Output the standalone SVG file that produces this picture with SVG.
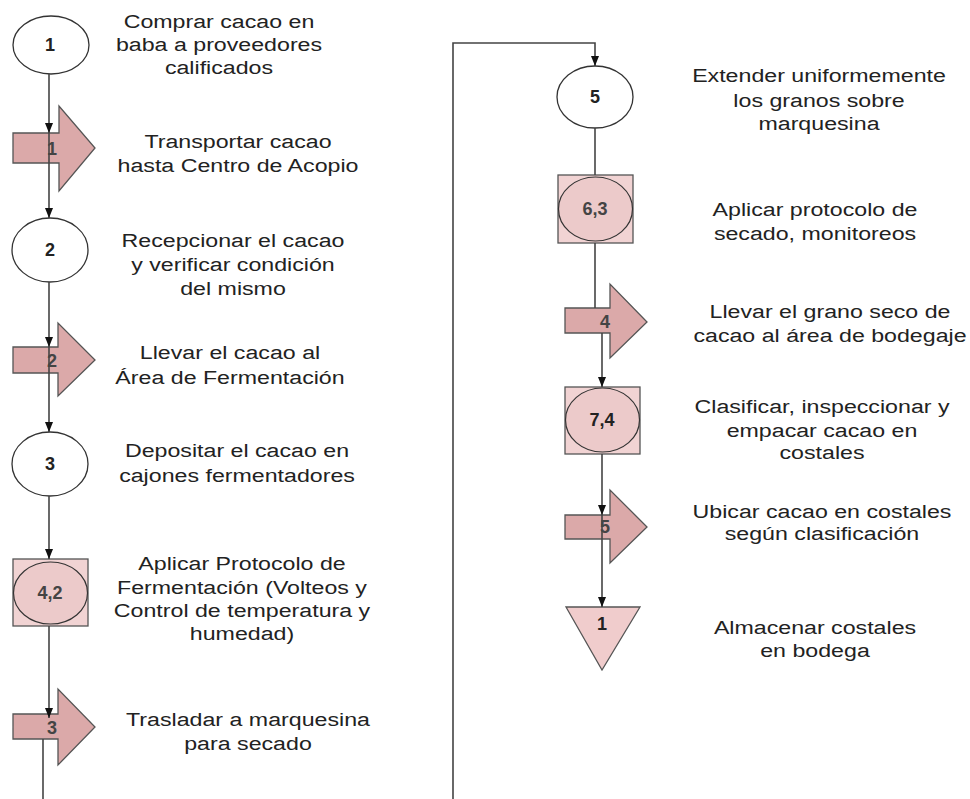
<svg xmlns="http://www.w3.org/2000/svg" width="970" height="799" viewBox="0 0 970 799">
<style>
.t{font-family:"Liberation Sans",Arial,sans-serif;font-size:19px;fill:#222;text-anchor:middle}
.n{font-family:"Liberation Sans",Arial,sans-serif;font-size:18px;font-weight:bold;fill:#222;text-anchor:middle}
.nl{font-family:"Liberation Sans",Arial,sans-serif;font-size:18px;font-weight:bold;fill:#444;text-anchor:middle}
.op{fill:#fff;stroke:#333;stroke-width:1.3}
.tr{fill:#dba9a9;stroke:#555;stroke-width:1.3}
.bx{fill:#f1d3d3;stroke:#555;stroke-width:1.3}
.be{fill:#eccaca;stroke:#333;stroke-width:1.2}
.st{fill:#f0cccc;stroke:#555;stroke-width:1.3}
.c{fill:none;stroke:#444;stroke-width:1.6}
</style>
<defs>
<marker id="ah" viewBox="0 0 10 8" refX="10" refY="4" markerWidth="10" markerHeight="8" markerUnits="userSpaceOnUse" orient="auto">
<path d="M0,0 L10,4 L0,8 Z" fill="#111"/>
</marker>
</defs>

<g id="n1"><ellipse class="op" cx="51" cy="45" rx="38" ry="29"/><text class="n" x="50" y="51">1</text>
<text class="t" transform="translate(219,0) scale(1.22,1)"><tspan x="0" y="28">Comprar cacao en</tspan><tspan x="0" y="51">baba a proveedores</tspan><tspan x="0" y="74">calificados</tspan></text></g>

<g id="t1"><path class="tr" d="M13,133 H59 V106 L95,148 L59,191 V163 H13 Z"/><line class="c" x1="49" y1="133" x2="49" y2="163"/><text class="nl" x="52" y="155">1</text>
<text class="t" transform="translate(238,0) scale(1.22,1)"><tspan x="0" y="148">Transportar cacao</tspan><tspan x="0" y="172">hasta Centro de Acopio</tspan></text></g>

<g id="n2"><ellipse class="op" cx="50" cy="250" rx="38" ry="32"/><text class="n" x="50" y="256">2</text>
<text class="t" transform="translate(233,0) scale(1.22,1)"><tspan x="0" y="247">Recepcionar el cacao</tspan><tspan x="0" y="271">y verificar condición</tspan><tspan x="0" y="295">del mismo</tspan></text></g>

<g id="t2"><path class="tr" d="M13,347 H58 V323 L95,360 L58,396 V373 H13 Z"/><line class="c" x1="49" y1="347" x2="49" y2="373"/><text class="nl" x="52" y="367">2</text>
<text class="t" transform="translate(230,0) scale(1.22,1)"><tspan x="0" y="359">Llevar el cacao  al</tspan><tspan x="0" y="384">Área de Fermentación</tspan></text></g>

<g id="n3"><ellipse class="op" cx="50" cy="464" rx="38" ry="32"/><text class="n" x="50" y="470">3</text>
<text class="t" transform="translate(237,0) scale(1.22,1)"><tspan x="0" y="457">Depositar el cacao en</tspan><tspan x="0" y="482">cajones fermentadores</tspan></text></g>

<g id="n42"><rect class="bx" x="13" y="559" width="75" height="67"/><ellipse class="be" cx="50.5" cy="593" rx="37" ry="31"/><text class="nl" x="50" y="599">4,2</text>
<text class="t" transform="translate(242,0) scale(1.22,1)"><tspan x="0" y="570">Aplicar Protocolo de</tspan><tspan x="0" y="594">Fermentación (Volteos y</tspan><tspan x="0" y="617">Control de temperatura y</tspan><tspan x="0" y="640">humedad)</tspan></text></g>

<g id="t3"><path class="tr" d="M13,714 H58 V689 L95,727 L58,765 V739 H13 Z"/><text class="nl" x="52" y="734">3</text>
<text class="t" transform="translate(248,0) scale(1.22,1)"><tspan x="0" y="726">Trasladar a marquesina</tspan><tspan x="0" y="750">para secado</tspan></text></g>

<g id="n5"><ellipse class="op" cx="595" cy="97" rx="38" ry="31"/><text class="n" x="595" y="103">5</text>
<text class="t" transform="translate(819,0) scale(1.22,1)"><tspan x="0" y="82">Extender uniformemente</tspan><tspan x="0" y="107">los granos sobre</tspan><tspan x="0" y="130">marquesina</tspan></text></g>

<g id="n63"><rect class="bx" x="558" y="175" width="75" height="68"/><ellipse class="be" cx="595.5" cy="209" rx="37" ry="32"/><text class="nl" x="595" y="215">6,3</text>
<text class="t" transform="translate(815,0) scale(1.22,1)"><tspan x="0" y="216">Aplicar protocolo de</tspan><tspan x="0" y="240">secado, monitoreos</tspan></text></g>

<g id="t4"><path class="tr" d="M565,308 H610 V284 L647,322 L610,358 V333 H565 Z"/><text class="nl" x="605" y="328">4</text>
<text class="t" transform="translate(830,0) scale(1.22,1)"><tspan x="0" y="318">Llevar el grano seco de</tspan><tspan x="0" y="342">cacao al área de bodegaje</tspan></text></g>

<g id="n74"><rect class="bx" x="565" y="387" width="75" height="67"/><ellipse class="be" cx="602.5" cy="420" rx="37" ry="32"/><text class="n" x="602" y="426">7,4</text>
<text class="t" transform="translate(822,0) scale(1.22,1)"><tspan x="0" y="413">Clasificar, inspeccionar y</tspan><tspan x="0" y="437">empacar cacao en</tspan><tspan x="0" y="459">costales</tspan></text></g>

<g id="t5"><path class="tr" d="M565,515 H610 V490 L647,527 L610,563 V539 H565 Z"/><line class="c" x1="602" y1="515" x2="602" y2="539"/><text class="nl" x="605" y="533">5</text>
<text class="t" transform="translate(822,0) scale(1.22,1)"><tspan x="0" y="518">Ubicar cacao en costales</tspan><tspan x="0" y="540">según clasificación</tspan></text></g>

<g id="s1"><path class="st" d="M566,607 H640 L602,670 Z"/><text class="n" x="602" y="630">1</text>
<text class="t" transform="translate(815,0) scale(1.22,1)"><tspan x="0" y="634">Almacenar costales</tspan><tspan x="0" y="657">en bodega</tspan></text></g>

<g id="connectors">
<line class="c" x1="49" y1="74" x2="49" y2="133" marker-end="url(#ah)"/>
<line class="c" x1="49" y1="163" x2="49" y2="218" marker-end="url(#ah)"/>
<line class="c" x1="49" y1="282" x2="49" y2="347" marker-end="url(#ah)"/>
<line class="c" x1="49" y1="373" x2="49" y2="432" marker-end="url(#ah)"/>
<line class="c" x1="49" y1="496" x2="49" y2="559" marker-end="url(#ah)"/>
<line class="c" x1="49" y1="626" x2="49" y2="718" marker-end="url(#ah)"/>
<line class="c" x1="43" y1="739" x2="43" y2="799"/>
<polyline class="c" points="453,799 453,43 595,43 595,66" marker-end="url(#ah)"/>
<line class="c" x1="595" y1="128" x2="595" y2="175"/>
<line class="c" x1="595" y1="243" x2="595" y2="308"/>
<line class="c" x1="602" y1="333" x2="602" y2="387" marker-end="url(#ah)"/>
<line class="c" x1="602" y1="454" x2="602" y2="515" marker-end="url(#ah)"/>
<line class="c" x1="602" y1="539" x2="602" y2="607" marker-end="url(#ah)"/>
</g>
</svg>
